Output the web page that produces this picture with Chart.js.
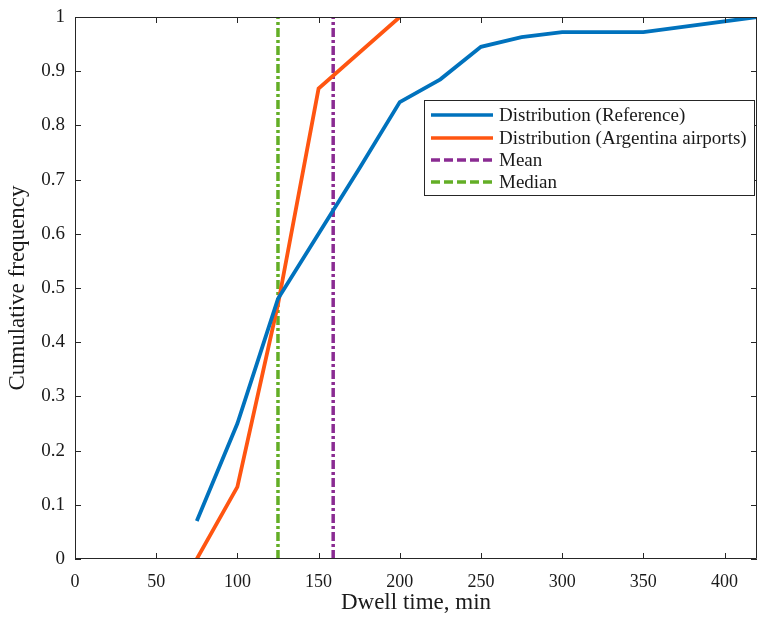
<!DOCTYPE html>
<html>
<head>
<meta charset="utf-8">
<script src="https://cdn.jsdelivr.net/npm/chart.js@4/dist/chart.umd.min.js"></script>
<style>
html,body{margin:0;padding:0;background:#fff;}
#wrap{width:759px;height:621px;}
</style>
</head>
<body>
<div id="wrap"><canvas id="c" width="759" height="621"></canvas></div>
<script>
// Data
const refX = [75, 100, 125, 150, 175, 200, 225, 250, 275, 300, 350, 420];
const refY = [0.07, 0.25, 0.48, 0.60, 0.72, 0.843, 0.885, 0.945, 0.963, 0.972, 0.972, 1.0];
const argX = [75, 100, 125, 150, 200];
const argY = [0.0, 0.133, 0.47, 0.868, 1.0];
const meanValue = 159;
const medianValue = 125;
const xTicks = [0, 50, 100, 150, 200, 250, 300, 350, 400];
const yTicks = [0, 0.1, 0.2, 0.3, 0.4, 0.5, 0.6, 0.7, 0.8, 0.9, 1];
const seriesNames = ['Distribution (Reference)', 'Distribution (Argentina airports)', 'Mean', 'Median'];

const BLUE = '#0072BD', ORANGE = '#FF5511', PURPLE = '#8A2B92', GREEN = '#63AE26';
const AXIS = '#262626';
const TEXT = '#1a1a1a';
const FONT = '"Liberation Serif", "Times New Roman", serif';
const DASHDOT = [9, 3, 3, 3];

const toPts = (xs, ys) => xs.map((x, i) => ({x: x, y: ys[i]}));

const frame = {
  id: 'frame',
  afterDatasetsDraw(chart) {
    const {ctx, chartArea: a, scales: {x, y}} = chart;
    ctx.save();
    ctx.strokeStyle = AXIS;
    ctx.lineWidth = 1;
    ctx.beginPath();
    ctx.rect(a.left + 0.5, a.top + 0.5, a.right - a.left - 1, a.bottom - a.top - 1);
    ctx.stroke();
    const L = 6;
    ctx.beginPath();
    xTicks.forEach(v => {
      const px = Math.round(x.getPixelForValue(v)) + 0.5;
      ctx.moveTo(px, a.bottom); ctx.lineTo(px, a.bottom - L);
      ctx.moveTo(px, a.top); ctx.lineTo(px, a.top + L);
    });
    yTicks.forEach(v => {
      const py = Math.round(y.getPixelForValue(v)) + 0.5;
      ctx.moveTo(a.left, py); ctx.lineTo(a.left + L, py);
      ctx.moveTo(a.right, py); ctx.lineTo(a.right - L, py);
    });
    ctx.stroke();

    // legend
    const bx = 424, by = 100, bw = 330, bh = 95;
    ctx.fillStyle = '#fff';
    ctx.fillRect(bx, by, bw, bh);
    ctx.strokeStyle = AXIS;
    ctx.strokeRect(bx + 0.5, by + 0.5, bw, bh);
    const rows = [115, 138, 160, 182];
    ctx.font = '19px ' + FONT;
    ctx.textBaseline = 'middle';
    chart.data.datasets.forEach((ds, i) => {
      const yy = rows[i];
      ctx.strokeStyle = ds.borderColor;
      ctx.lineWidth = 3.5;
      ctx.setLineDash(i >= 2 ? [9, 4] : []);
      ctx.beginPath();
      ctx.moveTo(431, yy); ctx.lineTo(493, yy);
      ctx.stroke();
      ctx.setLineDash([]);
      ctx.fillStyle = TEXT;
      ctx.fillText(ds.label, 499, yy + 1);
    });
    ctx.restore();
  }
};

new Chart(document.getElementById('c'), {
  type: 'scatter',
  data: {
    datasets: [
      {label: seriesNames[0], data: toPts(refX, refY), showLine: true, borderColor: BLUE, borderWidth: 3.8, pointRadius: 0, tension: 0},
      {label: seriesNames[1], data: toPts(argX, argY), showLine: true, borderColor: ORANGE, borderWidth: 3.8, pointRadius: 0, tension: 0},
      {label: seriesNames[2], data: [{x: meanValue, y: 0}, {x: meanValue, y: 1}], showLine: true, borderColor: PURPLE, borderWidth: 3.5, borderDash: DASHDOT, pointRadius: 0},
      {label: seriesNames[3], data: [{x: medianValue, y: 0}, {x: medianValue, y: 1}], showLine: true, borderColor: GREEN, borderWidth: 3.5, borderDash: DASHDOT, pointRadius: 0}
    ]
  },
  options: {
    responsive: false,
    animation: false,
    layout: {padding: {top: 17, right: 2, left: 0, bottom: 0}},
    plugins: {legend: {display: false}, tooltip: {enabled: false}},
    scales: {
      x: {
        type: 'linear', min: 0, max: 420,
        afterBuildTicks: s => { s.ticks = xTicks.map(v => ({value: v})); },
        afterFit: s => { s.height = 62; s.paddingLeft = 0; s.paddingRight = 0; },
        grid: {display: false, drawTicks: false},
        border: {display: false},
        ticks: {color: TEXT, font: {family: FONT, size: 18}, padding: 12, maxRotation: 0},
        title: {display: true, text: 'Dwell time, min', color: TEXT, font: {family: FONT, size: 23}, padding: {top: 0}}
      },
      y: {
        type: 'linear', min: 0, max: 1,
        afterBuildTicks: s => { s.ticks = yTicks.map(v => ({value: v})); },
        afterFit: s => { s.width = 75; s.paddingTop = 0; s.paddingBottom = 0; },
        grid: {display: false, drawTicks: false},
        border: {display: false},
        ticks: {color: TEXT, font: {family: FONT, size: 19}, padding: 10, callback: v => String(v)},
        title: {display: true, text: 'Cumulative frequency', color: TEXT, font: {family: FONT, size: 23}, padding: {bottom: 4}}
      }
    }
  },
  plugins: [frame]
});
</script>
</body>
</html>
